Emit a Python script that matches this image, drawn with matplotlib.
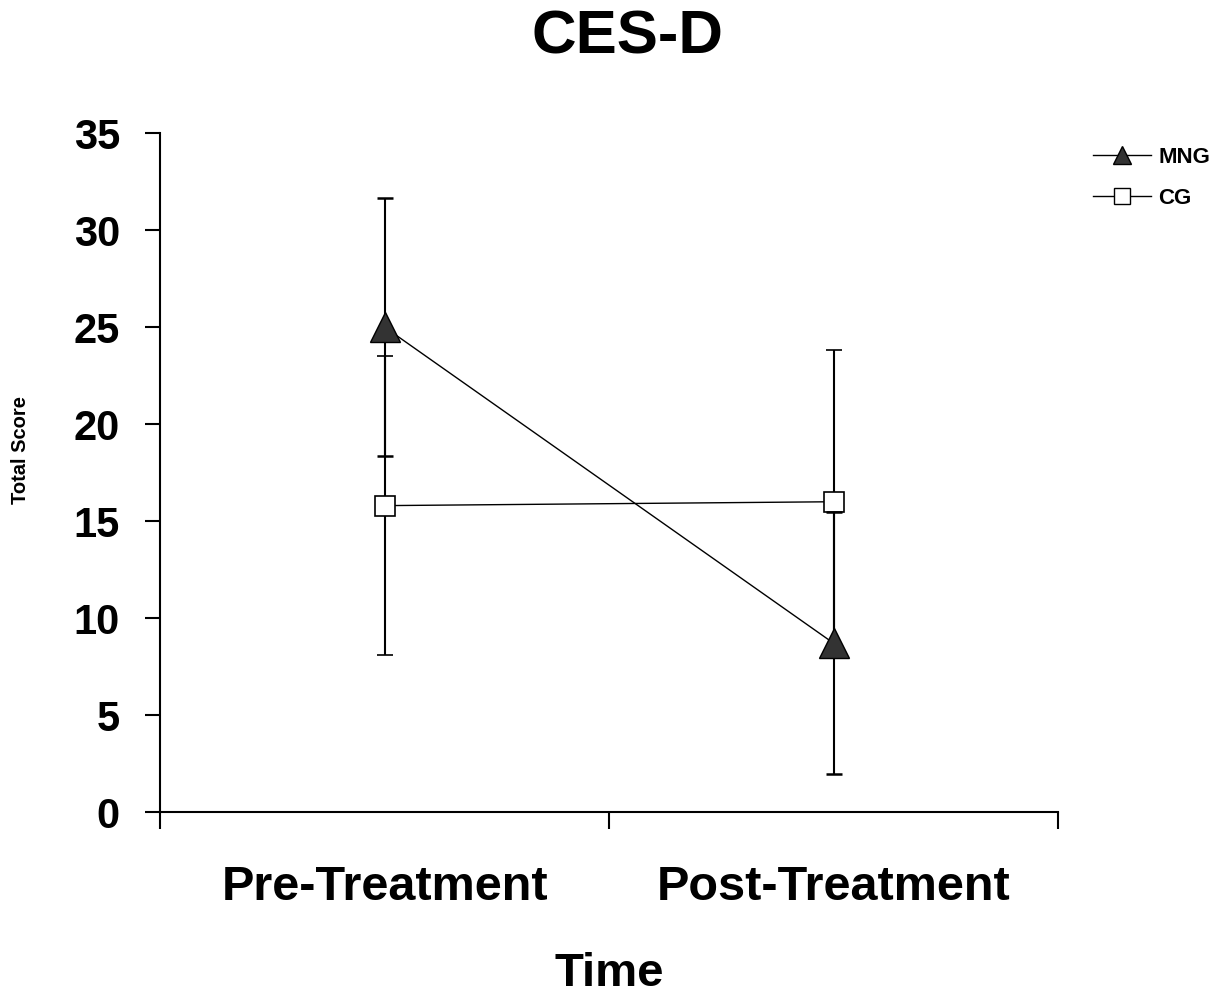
import matplotlib.pyplot as plt
from matplotlib.lines import Line2D

plt.rcParams['font.family'] = ['Liberation Sans', 'DejaVu Sans']
plt.rcParams['font.weight'] = 'bold'

# Data
categories = ["Pre-Treatment", "Post-Treatment"]
mng_mean = [25.0, 8.7]
mng_err = [6.65, 6.75]
cg_mean = [15.8, 16.0]
cg_err = [7.7, 7.8]
yticks = [0, 5, 10, 15, 20, 25, 30, 35]

x = [1, 2]

fig = plt.figure(figsize=(12.32, 9.94), dpi=100)
ax = fig.add_axes([0.13, 0.183, 0.729, 0.683])

ax.errorbar(x, mng_mean, yerr=mng_err, color="black", lw=1.0,
            marker="^", markersize=22, markerfacecolor="#333333",
            markeredgecolor="black", elinewidth=1.5, capsize=6, capthick=1.8,
            zorder=3)
ax.errorbar(x, cg_mean, yerr=cg_err, color="black", lw=1.0,
            marker="s", markersize=15, markerfacecolor="white",
            markeredgecolor="black", markeredgewidth=1.2, elinewidth=1.5,
            capsize=6, capthick=1.8, zorder=2)

ax.set_xlim(0.5, 2.5)
ax.set_ylim(0, 35)
ax.set_yticks(yticks)
ax.set_yticklabels([str(t) for t in yticks], fontsize=30, fontweight="bold")

ax.set_xticks([0.5, 1.5, 2.5])
ax.set_xticklabels([])
ax.set_xticks(x, minor=True)
ax.set_xticklabels(categories, minor=True, fontsize=35, fontweight="bold")
ax.tick_params(axis="x", which="minor", length=0, pad=38)
ax.tick_params(axis="x", which="major", length=12, width=1.5, direction="out")
ax.tick_params(axis="y", length=11, width=1.5, direction="out", pad=18)

ax.spines["top"].set_visible(False)
ax.spines["right"].set_visible(False)
ax.spines["left"].set_linewidth(1.5)
ax.spines["bottom"].set_linewidth(1.5)

ax.set_xlabel("Time", fontsize=34, fontweight="bold", labelpad=30)
ax.set_ylabel("Total Score", fontsize=14.5, fontweight="bold")
ax.yaxis.set_label_coords(-0.145, 0.533)
fig.text(627 / 1232, 1 - 53 / 994, "CES-D", fontsize=44.5, fontweight="bold",
         ha="center", va="baseline")

handles = [
    Line2D([], [], color="black", lw=1.0, marker="^", markersize=12.5,
           markerfacecolor="#333333", markeredgecolor="black"),
    Line2D([], [], color="black", lw=1.0, marker="s", markersize=11,
           markerfacecolor="white", markeredgecolor="black"),
]
fig.legend(handles, ["MNG", "CG"], loc="center left",
           bbox_to_anchor=(1093 / 1232, 1 - 178 / 994), frameon=False,
           fontsize=16, handlelength=2.6, handletextpad=0.35,
           labelspacing=0.9, borderpad=0, borderaxespad=0)

fig.savefig("out.png", dpi=100)
